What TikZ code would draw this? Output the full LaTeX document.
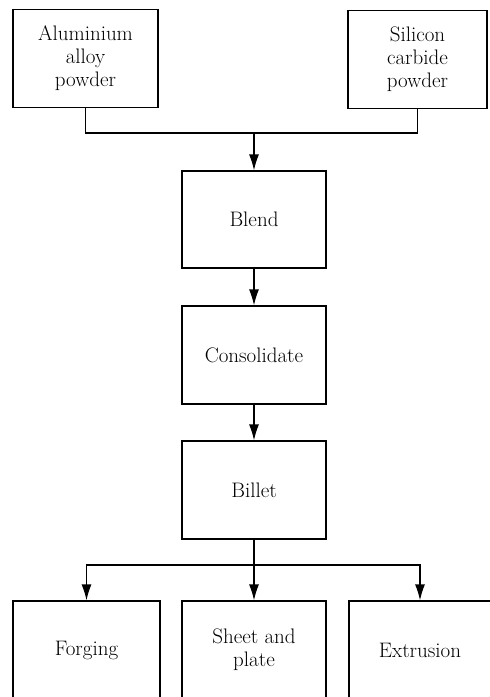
\documentclass[tikz,border=0pt]{standalone}
\usetikzlibrary{arrows.meta}

\begin{document}
\begin{tikzpicture}[x=1pt,y=-1pt,line width=1.2pt,
    every node/.style={font=\fontsize{21}{23}\selectfont},
    box/.style={draw,align=center,inner sep=0pt,minimum height=98pt},
    flow/.style={-{Latex[length=16pt,width=10pt]}}]
    \useasboundingbox (0,0) rectangle (490,697);
    \clip (0,0) rectangle (490,697);
    % raw materials
    \node[box,minimum width=145pt] (alloy) at (85.5,58.5) {Aluminium\\alloy\\powder};
    \node[box,minimum width=139pt] (sic) at (417.5,59.5) {Silicon\\carbide\\powder};
    % processing chain
    \node[box,minimum width=144pt,minimum height=97pt] (blend) at (254,219.5) {Blend};
    \node[box,minimum width=144pt] (consol) at (254,355) {Consolidate};
    \node[box,minimum width=144pt] (billet) at (254,490) {Billet};
    % products
    \node[box,minimum width=147pt] (forging) at (86.5,650) {Forging};
    \node[box,minimum width=144pt] (sheet) at (254,650) {Sheet and\\plate};
    \node[box,minimum width=142pt] (extrusion) at (420,650) {Extrusion};
    \coordinate (merge) at (254,133);
    \coordinate (split) at (254,565);
    \draw (alloy.south) |- (merge) -| (sic.south);
    \draw[flow] (merge) -- (blend.north);
    \draw[flow] (blend) -- (consol);
    \draw[flow] (consol) -- (billet);
    \draw (billet.south) -- (split);
    \draw[flow] (split) -| (forging.north);
    \draw[flow] (split) -- (sheet.north);
    \draw[flow] (split) -| (extrusion.north);
\end{tikzpicture}
\end{document}
